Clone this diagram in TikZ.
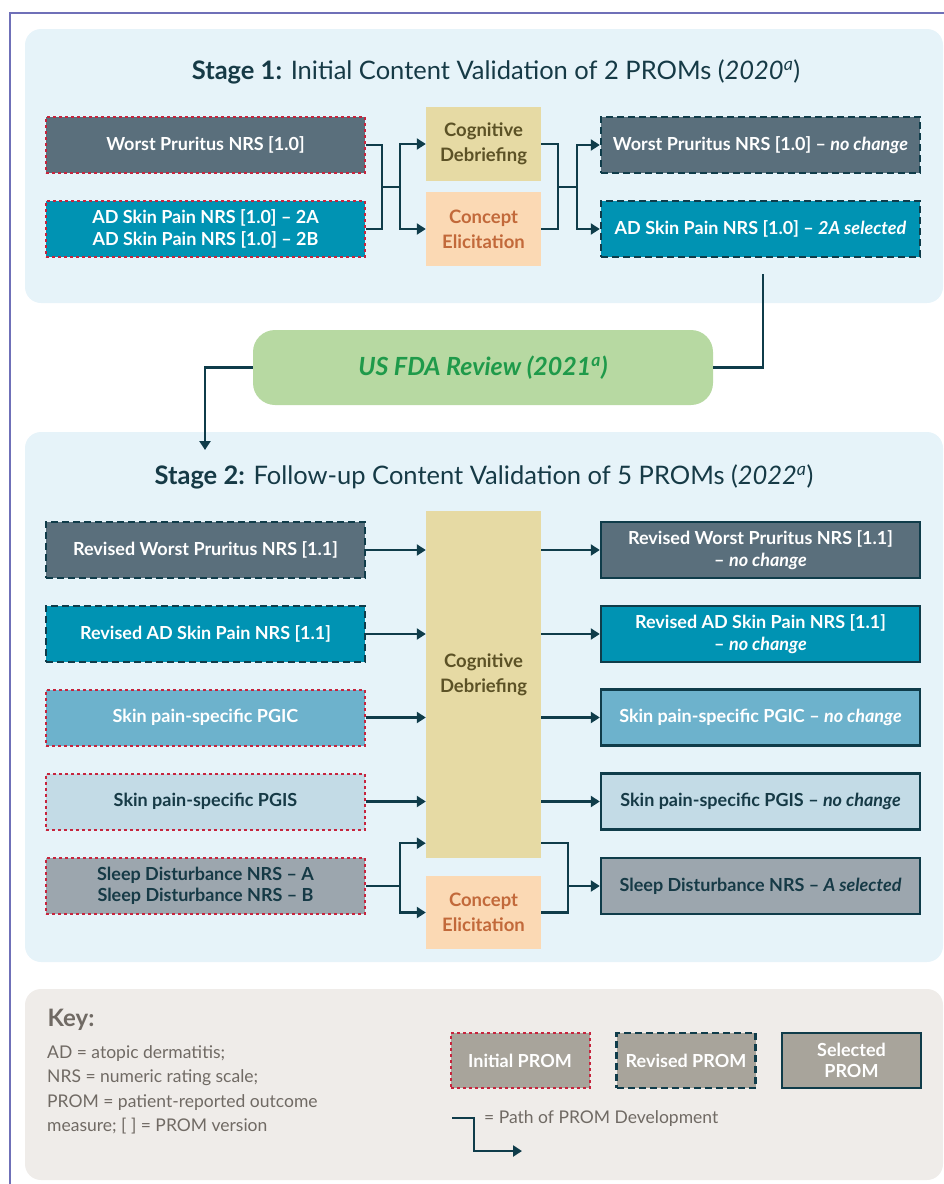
\documentclass[tikz,border=0pt]{standalone}
\usepackage{fontspec}
\setmainfont{Lato}
\usetikzlibrary{arrows.meta}

\definecolor{framecol}{HTML}{6F70B8}
\definecolor{panelblue}{HTML}{E6F3F9}
\definecolor{keybg}{HTML}{EFECE9}
\definecolor{keytext}{HTML}{706A64}
\definecolor{slate}{HTML}{5A6F7C}
\definecolor{teal}{HTML}{0093B3}
\definecolor{pgicblue}{HTML}{6DB2CC}
\definecolor{pgisblue}{HTML}{C3DBE6}
\definecolor{sleepgray}{HTML}{9CA6AE}
\definecolor{legendgray}{HTML}{A8A49B}
\definecolor{darktext}{HTML}{163A46}
\definecolor{cogfill}{HTML}{E6DAA4}
\definecolor{cogtext}{HTML}{5C5226}
\definecolor{concfill}{HTML}{FBD9B4}
\definecolor{conctext}{HTML}{C2693A}
\definecolor{fdafill}{HTML}{B7D9A2}
\definecolor{fdatext}{HTML}{1F9A4A}
\definecolor{linecol}{HTML}{0F3C4A}
\definecolor{reddot}{HTML}{C7243D}

\tikzset{
	prom/.style={minimum width=319pt, minimum height=56pt, inner sep=0pt, align=center, text=white, font=\bfseries\fontsize{18}{21.5}\selectfont},
	initial/.style={draw=reddot, line width=2pt, dash pattern=on 3pt off 3pt},
	revised/.style={draw=linecol, line width=2.4pt, dash pattern=on 7pt off 4pt},
	selected/.style={draw=linecol, line width=2.4pt},
	method/.style={minimum width=115pt, inner sep=0pt, align=center, font=\bfseries\fontsize{18.5}{25}\selectfont},
	flow/.style={draw=linecol, line width=2.5pt},
	tip/.style={-{Triangle[length=9pt, width=11pt]}},
	panel/.style={rounded corners=16pt},
}

\begin{document}
\begin{tikzpicture}[x=1pt, y=-1pt]
		\useasboundingbox (0,0) rectangle (944,1184);
		\draw [framecol, line width=2.5pt] (10,1184) -- (10,13) -- (944,13);
		
		\fill [panelblue, panel] (25,29) rectangle (943,303);
		\fill [panelblue, panel] (25,432) rectangle (943,962);
		\fill [keybg, panel] (25,989) rectangle (943,1180);
		
		\node [text=darktext, font=\fontsize{25.5}{30}\selectfont] (title1) at (496,72) {\textbf{Stage 1:} Initial Content Validation of 2 PROMs (\textit{2020\textsuperscript{a}})};
		\node [text=darktext, font=\fontsize{25.5}{30}\selectfont] (title2) at (484,477) {\textbf{Stage 2:} Follow-up Content Validation of 5 PROMs (\textit{2022\textsuperscript{a}})};
		
		% stage 1
		\node [prom, initial, fill=slate] (wp1) at (205.5,145) {Worst Pruritus NRS [1.0]};
		\node [prom, initial, fill=teal] (ad1) at (205.5,229) {AD Skin Pain NRS [1.0] -- 2A\\AD Skin Pain NRS [1.0] -- 2B};
		\node [method, fill=cogfill, text=cogtext, minimum height=74pt] (cog1) at (483.5,144) {Cognitive\\Debriefing};
		\node [method, fill=concfill, text=conctext, minimum height=74pt] (conc1) at (483.5,229) {Concept\\Elicitation};
		\node [prom, revised, fill=slate] (wp1out) at (760.5,145) {Worst Pruritus NRS [1.0] -- \textit{no change}};
		\node [prom, revised, fill=teal] (ad1out) at (760.5,229) {AD Skin Pain NRS [1.0] -- \textit{2A selected}};
		
		\coordinate (j1) at (382,187);
		\coordinate (j2) at (400,187);
		\coordinate (k1) at (558,187);
		\coordinate (k2) at (577,187);
		\draw [flow] (wp1.east) -| (j1) |- (ad1.east);
		\draw [flow] (j1) -- (j2);
		\draw [flow, tip] (j2) |- (cog1.west);
		\draw [flow, tip] (j2) |- (conc1.west);
		\draw [flow] (cog1.east) -| (k1) |- (conc1.east);
		\draw [flow] (k1) -- (k2);
		\draw [flow, tip] (k2) |- (wp1out.west);
		\draw [flow, tip] (k2) |- (ad1out.west);
		
		% review
		\node [fill=fdafill, rounded corners=22pt, minimum width=460pt, minimum height=75pt, text=fdatext, font=\bfseries\itshape\fontsize{25}{30}\selectfont] (fda) at (483,367.5) {US FDA Review (2021\textsuperscript{a})};
		\coordinate (s1out) at (763,274);
		\coordinate (s2in) at (205,450);
		\draw [flow] (s1out) |- (fda.east);
		\draw [flow, tip] (fda.west) -| (s2in);
		
		% stage 2
		\node [prom, revised, fill=slate] (wp2) at (205.5,550) {Revised Worst Pruritus NRS [1.1]};
		\node [prom, revised, fill=teal] (ad2) at (205.5,634) {Revised AD Skin Pain NRS [1.1]};
		\node [prom, initial, fill=pgicblue] (pgic) at (205.5,717.5) {Skin pain-specific PGIC};
		\node [prom, initial, fill=pgisblue, text=darktext] (pgis) at (205.5,801.5) {Skin pain-specific PGIS};
		\node [prom, initial, fill=sleepgray, text=darktext] (sleep) at (205.5,886) {Sleep Disturbance NRS -- A\\Sleep Disturbance NRS -- B};
		
		\node [method, fill=cogfill, minimum height=347pt] (cog2) at (483.5,684.5) {};
		\node [method, text=cogtext] (cog2text) at (483.5,675) {Cognitive\\Debriefing};
		\node [method, fill=concfill, text=conctext, minimum height=73pt] (conc2) at (483.5,912.5) {Concept\\Elicitation};
		
		\node [prom, selected, fill=slate] (wp2out) at (760.5,550) {Revised Worst Pruritus NRS [1.1]\\-- \textit{no change}};
		\node [prom, selected, fill=teal] (ad2out) at (760.5,634) {Revised AD Skin Pain NRS [1.1]\\-- \textit{no change}};
		\node [prom, selected, fill=pgicblue] (pgicout) at (760.5,717.5) {Skin pain-specific PGIC -- \textit{no change}};
		\node [prom, selected, fill=pgisblue, text=darktext] (pgisout) at (760.5,801.5) {Skin pain-specific PGIS -- \textit{no change}};
		\node [prom, selected, fill=sleepgray, text=darktext] (sleepout) at (760.5,886) {Sleep Disturbance NRS -- \textit{A selected}};
		
		\foreach \a/\b in {wp2/wp2out, ad2/ad2out, pgic/pgicout, pgis/pgisout} {
			\draw [flow, tip] (\a.east) -- (\a.east -| cog2.west);
			\draw [flow, tip] (\a.east -| cog2.east) -- (\b.west);
		}
		\coordinate (j3) at (400,886);
		\coordinate (k3) at (568,886);
		\draw [flow] (sleep.east) -- (j3);
		\draw [flow, tip] (j3) |- ([yshift=15pt]cog2.south west);
		\draw [flow, tip] (j3) |- (conc2.west);
		\draw [flow] ([yshift=15pt]cog2.south east) -| (k3) |- (conc2.east);
		\draw [flow, tip] (k3) -- (sleepout.west);
		
		% key
		\node [anchor=west, text=keytext, font=\bfseries\fontsize{24}{28}\selectfont] (keyhead) at (44,1020) {Key:};
		\node [anchor=north west, align=left, inner sep=0pt, text=keytext, font=\fontsize{17.5}{24.5}\selectfont] (keylist) at (47,1045) {AD = atopic dermatitis;\\NRS = numeric rating scale;\\PROM = patient-reported outcome\\measure; [ ] = PROM version};
		\node [prom, initial, fill=legendgray, minimum width=139pt, minimum height=55pt] (keyinit) at (520,1060.5) {Initial PROM};
		\node [prom, revised, fill=legendgray, minimum width=139pt, minimum height=55pt] (keyrev) at (686,1060.5) {Revised PROM};
		\node [prom, selected, fill=legendgray, minimum width=139pt, minimum height=55pt, font=\bfseries\fontsize{18}{21}\selectfont] (keysel) at (851.5,1060.5) {Selected\\PROM};
		\coordinate (pathA) at (452,1118);
		\coordinate (pathB) at (474,1151);
		\coordinate (pathC) at (522,1151);
		\draw [flow, tip] (pathA) -| (pathB) -- (pathC);
		\node [anchor=west, inner sep=0pt, text=keytext, font=\fontsize{17.5}{21}\selectfont] (pathtext) at (484,1119) {= Path of PROM Development};
		
		\end{tikzpicture}
\end{document}
